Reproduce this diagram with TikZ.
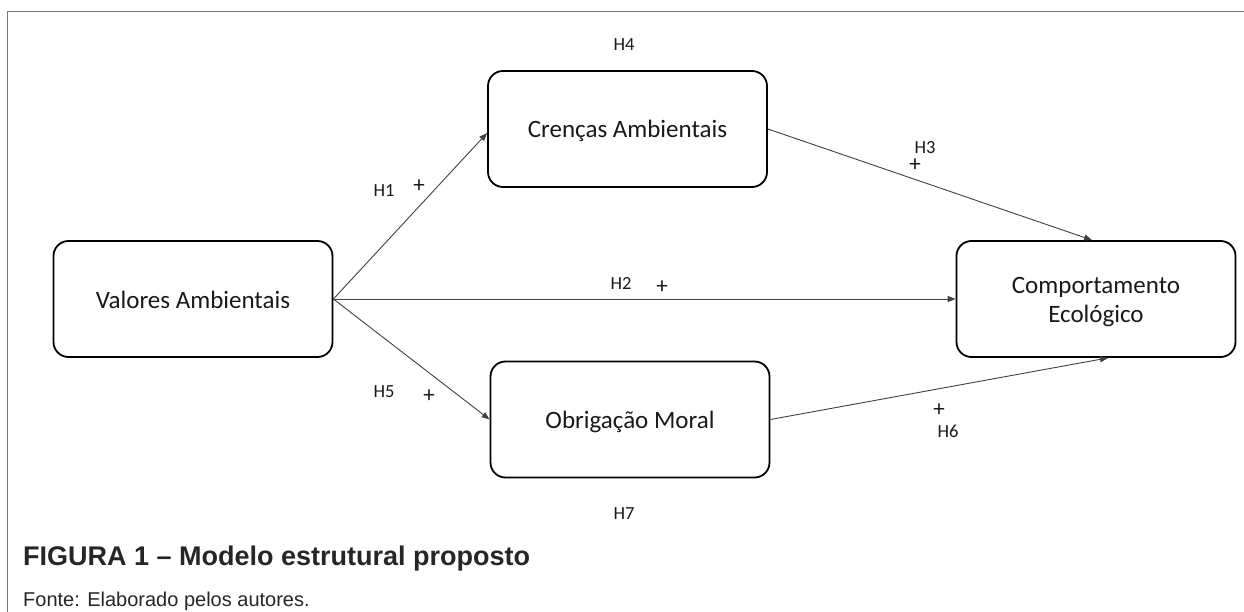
\documentclass[tikz,border=0pt]{standalone}
\usepackage{fontspec}
\setmainfont{Liberation Sans}
\newfontfamily\boxfont{Carlito}
\usepackage{tikz}
\usetikzlibrary{
  arrows.meta,
  positioning,
}
\tikzstyle{construct} = [
  draw,
  line width=1.8pt,
  rounded corners=15pt,
  minimum width=279pt,
  minimum height=116pt,
  align=center,
  text=black!90,
  font=\boxfont\fontsize{25}{29}\selectfont,
]
\tikzstyle{oneline} = [text height=18pt, text depth=0pt]
\tikzstyle{twoline} = [text height=47pt, text depth=0pt]
\tikzstyle{arrow} = [
  -{Triangle[length=8pt,width=6pt]},
  line width=0.9pt,
  draw=black!75,
]
\tikzstyle{hyp} = [
  inner sep=0pt,
  text height=12pt,
  text depth=0pt,
  text=black!90,
  font=\boxfont\fontsize{18.5}{20}\selectfont,
]
\tikzstyle{plus} = [hyp, font=\boxfont\fontsize{23}{24}\selectfont]
\definecolor{framegray}{RGB}{120,120,120}

\begin{document}
\begin{tikzpicture}[x=1pt, y=-1pt]
  \useasboundingbox (0,0) rectangle (1244,612);
  \draw[framegray, line width=1.5pt] (7.5,612) -- (7.5,11.5) -- (1244,11.5);

  \node[construct, oneline] (valores) at (193,299) {Valores Ambientais};
  \node[construct, oneline] (crencas) at (627.5,129) {Crenças Ambientais};
  \node[construct, oneline] (obrigacao) at (630,419.5) {Obrigação Moral};
  \node[construct, twoline] (comport) at (1096,299) {Comportamento\\Ecológico};

  \draw[arrow] (valores.east) -- ([yshift=-4pt]crencas.west);
  \draw[arrow] (valores.east) -- (comport.west);
  \draw[arrow] (valores.east) -- (obrigacao.west);
  \draw[arrow] (crencas.east) -- ([xshift=-4pt]comport.north);
  \draw[arrow] (obrigacao.east) -- ([xshift=12pt]comport.south);

  % hypotheses
  \node[hyp] (h1) at (384,191) {H1};
  \node[plus] (p1) at (419,187) {+};
  \node[hyp] (h2) at (621,283) {H2};
  \node[plus] (p2) at (662,287) {+};
  \node[hyp] (h3) at (925,148) {H3};
  \node[plus] (p3) at (915,166) {+};
  \node[hyp] (h4) at (624,45) {H4};
  \node[hyp] (h5) at (384,391) {H5};
  \node[plus] (p5) at (429,396) {+};
  \node[hyp] (h6) at (948,431) {H6};
  \node[plus] (p6) at (939,410) {+};
  \node[hyp] (h7) at (624,513.5) {H7};

  \node[anchor=base west, inner sep=0pt, text=black!85,
    font=\bfseries\fontsize{27}{30}\selectfont] (titulo) at (23,565)
    {FIGURA 1 – Modelo estrutural proposto};
  \node[anchor=base west, inner sep=0pt, text=black!85,
    font=\fontsize{20}{22}\selectfont] (fonte) at (23,606)
    {Fonte: Elaborado pelos autores.};
\end{tikzpicture}
\end{document}
